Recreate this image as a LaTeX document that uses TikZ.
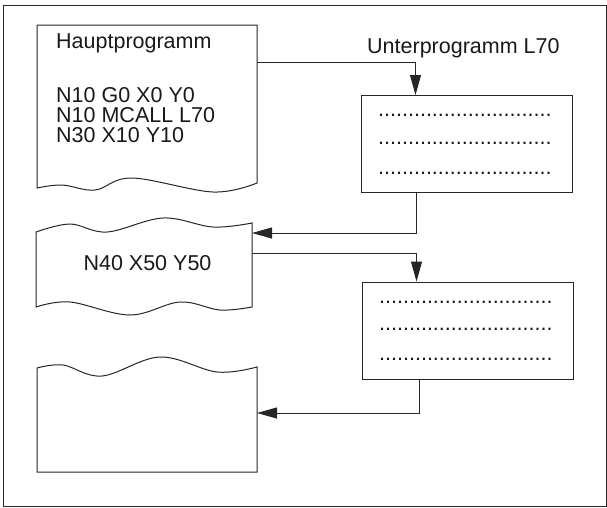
\documentclass[tikz,border=0pt]{standalone}
\usepackage{fontspec}
\setmainfont{Liberation Sans}
\usetikzlibrary{arrows.meta, positioning}
\newcommand{\dotrow}{.............................}

\begin{document}
\begin{tikzpicture}[x=1pt, y=-1pt,
            ln/.style={draw=black!85, line width=1pt},
            conn/.style={ln, -{Triangle[length=20pt, width=11pt]}},
            txt/.style={font=\fontsize{21.5}{24}\selectfont, text=black!90, inner sep=0pt},
            subbox/.style={ln, rectangle, minimum width=211pt, minimum height=97pt, inner sep=0pt}]
            \useasboundingbox (0,0) rectangle (607,507);
            \draw[ln] (3,5) rectangle (606,506);
            % Hauptprogramm
            \draw[ln] plot[smooth, tension=0.6] coordinates {(37,188) (62,185) (95,190) (132,178) (213,192) (257,183)}
                -- (257,25) -- (37,25) -- cycle;
            \node[txt, anchor=base west] (hp) at (56,48)  {Hauptprogramm};
            \node[txt, anchor=base west] (l1) at (56,102) {N10 G0 X0 Y0};
            \node[txt, anchor=base west] (l2) at (56,122) {N10 MCALL L70};
            \node[txt, anchor=base west] (l3) at (56,142) {N30 X10 Y10};
            % N40
            \draw[ln] plot[smooth, tension=0.6] coordinates {(36,232) (70,224) (107,232) (163,218) (213,227) (252,223)}
                -- plot[smooth, tension=0.6] coordinates {(252,307) (220,310) (180,302) (130,315) (70,302) (36,307)} -- cycle;
            \node[txt, anchor=base] (n40) at (147.5,270) {N40 X50 Y50};
            % letzter Abschnitt
            \draw[ln] plot[smooth, tension=0.6] coordinates {(37,368) (63,365) (102,376) (160,357) (217,372) (257,367)}
                -- (257,472) -- (37,472) -- cycle;
            \coordinate (hpout)   at (257,62);
            \coordinate (n40in)   at (252,233);
            \coordinate (n40out)  at (252,253);
            \coordinate (lastin)  at (257,413);
            % Unterprogramm
            \node[txt, anchor=base west] (uplbl) at (367,53) {Unterprogramm L70};
            \node[subbox] (up1) at (466.5,144) {};
            \node[subbox] (up2) at (467.5,330.5) {};
            \node[txt, anchor=base west] (d1) at (378,116) {\dotrow};
            \node[txt, anchor=base west] (d2) at (378,144) {\dotrow};
            \node[txt, anchor=base west] (d3) at (378,174) {\dotrow};
            \node[txt, anchor=base west] (d4) at (379,303) {\dotrow};
            \node[txt, anchor=base west] (d5) at (379,330) {\dotrow};
            \node[txt, anchor=base west] (d6) at (379,360) {\dotrow};
            % Verbindungen
            \draw[conn] (hpout) -| ([xshift=55pt]up1.north west);
            \draw[conn] ([xshift=56pt]up1.south west) |- (n40in);
            \draw[conn] (n40out) -| ([xshift=55pt]up2.north west);
            \draw[conn] ([xshift=58pt]up2.south west) |- (lastin);
\end{tikzpicture}
\end{document}
